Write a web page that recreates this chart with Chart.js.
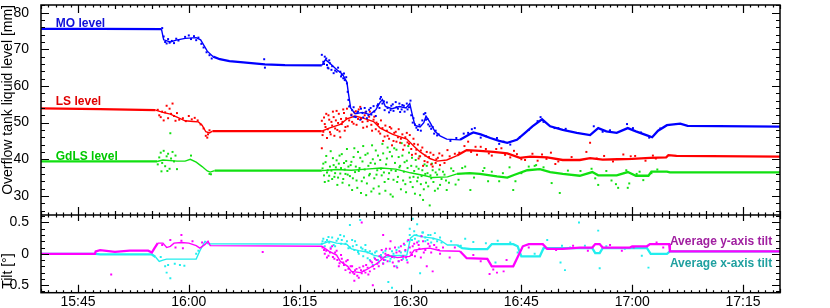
<!DOCTYPE html>
<html><head><meta charset="utf-8">
<script src="https://cdn.jsdelivr.net/npm/chart.js@4/dist/chart.umd.min.js"></script>
<style>html,body{margin:0;padding:0;background:#fff;}canvas{display:block;}</style>
</head><body>
<canvas id="c" width="830" height="308"></canvas>
<script>
// ---- time axis (minutes after 15:40) ----
const timeTickMinutes = [5, 20, 35, 50, 65, 80, 95];
const timeTickLabels = ['15:45', '16:00', '16:15', '16:30', '16:45', '17:00', '17:15'];
const levelTicks = [30, 40, 50, 60, 70, 80];
const tiltTicks = [-0.5, 0, 0.5];
const tiltTickLabels = ['-0.5', '0', '0.5'];
const seriesNames = ['MO level', 'LS level', 'GdLS level'];
const tiltNames = ['Average y-axis tilt', 'Average x-axis tilt'];

// ---- overflow tank liquid level [mm] : [minute, value] ----
const moTrend = [[0,75.6],[8,75.6],[16.3,75.5],[16.6,72.6],[17.5,72.0],[18.3,72.5],[19.5,73.0],[21.0,73.2],[21.6,72.6],[22.5,69.5],[23.3,68.0],[24.2,67.3],[25.5,66.8],[27,66.5],[30.3,65.9],[33,65.7],[38,65.6],[38.5,67.2],[39.2,66.0],[40.0,64.5],[40.8,63.2],[41.4,61.0],[41.6,58.0],[41.9,54.0],[42.5,52.4],[43.5,52.8],[44.5,52.2],[45.3,53.5],[45.9,55.6],[46.2,56.3],[46.6,54.4],[47.5,53.8],[48.5,54.4],[49.4,54.0],[49.9,55.2],[50.2,52.5],[50.6,49.2],[51.3,48.8],[51.8,50.0],[52.1,51.8],[52.6,50.2],[53.3,47.6],[54.0,46.4],[54.9,45.5],[56.7,45.3],[58.0,46.8],[58.5,47.3],[59.5,46.8],[60.8,45.8],[62,45.0],[63.1,44.5],[64.4,45.3],[65.5,47.2],[66.5,49.0],[67.8,50.9],[68.9,49.0],[70.6,48.0],[72.5,47.2],[74.3,46.6],[75.4,48.5],[76.5,47.6],[77.9,47.2],[79.4,48.5],[80.5,47.6],[82.0,46.5],[82.7,46.0],[83.5,47.8],[84.7,49.3],[86.5,49.7],[87.5,49.1],[100,48.9]];
const moScatter = [[16.4,75.8],[16.6,73.5],[16.8,72.0],[17.0,71.6],[17.2,72.8],[17.4,71.8],[17.7,72.3],[18.0,71.7],[18.3,72.9],[18.6,72.4],[19.5,73.4],[20,73.8],[20.3,72.8],[20.7,73.6],[21,72.5],[21.3,73.2],[21.7,71.5],[22,70.5],[22.4,69.2],[22.8,68.4],[23.1,67.5],[30.2,67.3],[30.3,65.0],[38.0,68.5],[38.4,68.0],[38.2,66.6],[38.7,65.7],[38.9,64.8],[39.1,66.2],[39.3,64.4],[39.6,63.5],[40.0,63.9],[40.5,63.9],[40.7,63.0],[40.9,62.1],[41.1,61.6],[41.4,60.7],[41.5,58.4],[41.6,56.2],[41.7,54.4],[42.0,52.0],[42.3,54.2],[42.6,51.5],[42.9,53.0],[43.2,50.8],[43.5,52.6],[43.8,54.0],[44.1,51.2],[44.4,53.5],[44.7,52.2],[45.0,54.5],[45.3,51.8],[45.6,55.0],[45.9,56.5],[46.2,55.2],[46.5,53.4],[46.8,55.5],[47.1,52.8],[47.4,54.6],[47.7,53.2],[48.0,55.6],[48.3,53.8],[48.6,52.9],[48.9,54.8],[49.2,53.0],[49.5,55.2],[49.8,54.2],[50.1,52.0],[50.3,50.0],[50.6,49.5],[51.0,48.0],[51.4,47.8],[51.8,52.3],[52.1,50.8],[52.4,49.5],[52.8,48.3],[53.2,47.0],[53.6,46.5],[57.2,47.0],[58.3,48.2],[58.7,48.5],[59.5,45.9],[61.7,45.8],[62.0,44.2],[63.5,44.0],[66,48],[67.6,51.5],[68.0,50.2],[69.5,48.5],[71.0,48.3],[74.8,49.0],[76.0,47.5],[79.3,49.6],[80.1,48.5],[82.3,45.9],
  [38.3,66.0],[38.6,67.5],[38.8,65.0],[39.0,67.0],[39.4,65.4],[39.8,64.2],[40.2,65.0],[40.6,62.6],[41.0,63.4],[41.3,62.4],[42.1,53.4],[42.4,51.6],[42.8,52.6],[43.3,53.8],[43.6,51.4],[44.0,53.0],[44.3,52.0],[44.6,54.0],[45.1,53.0],[45.5,54.6],[45.8,54.0],[46.0,57.0],[46.4,55.8],[46.9,54.0],[47.3,53.4],[47.6,55.0],[48.1,54.2],[48.5,55.2],[48.8,53.6],[49.1,54.6],[49.6,53.6],[50.0,56.0],[50.4,51.2],[50.8,48.6],[51.2,49.4],[51.6,50.6],[52.0,52.6],[52.3,51.0],[52.6,49.0],[53.0,48.8],[53.4,47.8],[53.8,46.8],[55.4,45.0],[56.2,45.8],[57.8,47.2],[60.2,46.3],[62.6,44.8],[64.8,46.0],[67.2,50.4],[70.0,48.5],[73.4,46.9],[77.0,47.9],[81.2,47.3],[83.8,48.4]];

const lsTrend = [[0,53.9],[8,53.7],[15.5,53.4],[16.5,52.8],[17.5,52.3],[18.4,51.5],[19.5,50.5],[20.6,50.3],[21.3,50.2],[21.8,49.3],[22.3,47.5],[22.8,47.2],[23.2,47.7],[38,47.7],[39,48.5],[40.5,49.5],[41.4,51.0],[42.5,51.8],[43.5,51.3],[45,50.3],[45.9,48.5],[47.6,46.8],[49.5,45.5],[50.5,43.5],[51.3,42.0],[52.6,40.2],[53.6,39.5],[54.9,39.8],[56.3,41.0],[57.6,42.5],[59.4,42.3],[61.2,42.0],[63.1,41.6],[64.8,40.4],[66.2,40.7],[68.5,40.5],[70.6,39.8],[72.9,39.8],[74.3,40.3],[76,39.9],[78,40.0],[80,40.1],[82.4,40.4],[84.6,40.5],[84.9,41.1],[86,40.9],[100,40.7]];
const lsScatter = [[15.8,53.5],[16.0,52.0],[16.2,51.5],[16.4,53.0],[16.6,50.6],[16.8,52.8],[17.0,54.6],[17.2,51.2],[17.4,53.8],[17.6,52.4],[17.8,55.2],[18.0,51.8],[18.2,50.5],[18.4,52.6],[18.7,50.8],[19.2,51.2],[19.6,50.4],[20.0,51.8],[20.4,50.9],[20.8,51.3],[21.2,50.6],[21.6,49.5],[22.0,48.4],[22.3,46.4],[22.6,46.8],[22.8,47.9],[22.5,45.9],[38.0,43.0],[38.0,50.5],[38.2,47.5],[38.4,49.6],[38.6,52.4],[38.8,48.2],[39.0,50.8],[39.2,46.8],[39.4,49.2],[39.6,51.5],[39.8,48.4],[40.0,53.2],[40.2,49.9],[40.4,47.6],[40.6,51.0],[40.8,50.2],[41.0,52.6],[41.2,48.8],[41.4,53.8],[41.7,50.6],[42.0,52.2],[42.3,49.7],[42.6,53.1],[42.9,51.0],[43.2,54.3],[43.5,50.2],[43.8,52.0],[44.1,48.9],[44.4,51.6],[44.7,49.4],[45.0,50.8],[45.3,48.2],[45.6,49.6],[45.9,47.0],[46.2,48.5],[46.5,46.2],[46.8,47.8],[47.1,45.6],[47.4,48.4],[47.7,45.0],[48.0,47.5],[48.3,46.0],[48.6,44.5],[48.9,46.8],[49.2,43.8],[49.5,47.2],[49.8,44.2],[50.1,42.8],[50.4,45.6],[50.7,41.5],[51.0,44.0],[51.3,40.8],[51.6,43.2],[51.9,39.5],[52.2,42.0],[52.5,40.6],[52.8,38.6],[53.1,41.2],[53.4,39.0],[53.7,40.4],[54.0,38.4],[54.3,41.0],[55.0,42.5],[56.0,41.5],[57.3,43.6],[57.8,44.8],[59.0,41.2],[59.5,43.4],[60.2,42.8],[61.0,41.0],[62.3,43.0],[63.5,40.5],[64.0,42.3],[65.5,39.8],[66.5,41.5],[67.2,39.6],[68.4,40.1],[69.0,41.8],[69.6,38.7],[73.8,42.0],[74.3,44.5],[76.2,40.9],[78.8,41.3],[80.4,40.9],[83.2,40.2],
  [38.1,46.6],[38.3,51.4],[38.5,48.8],[38.7,45.8],[38.9,52.0],[39.1,47.4],[39.3,50.2],[39.5,53.0],[39.7,46.4],[39.9,50.6],[40.1,48.0],[40.3,52.4],[40.5,46.0],[40.7,49.6],[40.9,53.6],[41.1,47.8],[41.3,51.2],[41.5,49.0],[41.8,54.6],[42.1,50.2],[42.4,52.8],[42.7,49.4],[43.0,53.6],[43.3,51.0],[43.6,48.6],[43.9,52.8],[44.2,50.4],[44.5,53.0],[44.8,47.8],[45.1,51.6],[45.4,50.0],[45.7,47.6],[46.0,50.6],[46.3,45.0],[46.6,49.2],[46.9,46.4],[47.2,48.8],[47.5,43.8],[47.8,47.2],[48.1,44.8],[48.4,48.2],[48.7,45.6],[49.0,42.6],[49.3,46.0],[49.6,44.6],[49.9,46.6],[50.2,41.2],[50.5,44.2],[50.8,42.6],[51.1,40.2],[51.4,42.4],[51.7,38.2],[52.0,41.0],[52.3,39.2],[52.7,41.8],[53.0,38.0],[53.5,40.0],[53.9,41.6],[54.6,39.0],[55.3,40.8],[56.6,41.8],[58.2,42.0],[58.8,43.4],[60.6,41.6],[61.6,42.8],[62.8,41.2],[64.4,41.4],[65.0,40.0],[67.8,41.3],[70.0,39.4],[71.8,40.6],[75.2,40.2],[77.4,39.4],[79.8,40.8],[81.8,39.6],[82.8,41.0]];

const gdlsTrend = [[0,39.4],[15.7,39.4],[16.5,39.8],[18.4,39.5],[19.5,39.5],[20.2,40.0],[21.0,39.2],[21.8,38.0],[22.5,36.8],[22.9,36.5],[23.5,36.9],[38,36.9],[40,37.2],[42,37.0],[44,37.3],[46,37.6],[48,37.3],[50,36.3],[52,35.5],[53,35.0],[55,35.2],[56.3,36.0],[58,36.2],[59.4,36.0],[61.7,35.3],[63.1,35.0],[64,35.7],[65.8,37.0],[67.5,37.3],[68.9,36.5],[70.6,36.0],[72.9,35.5],[74.6,36.5],[75.4,35.6],[77.9,35.6],[79.4,36.5],[80.5,35.5],[82.2,35.5],[82.6,36.6],[84.7,36.6],[85.1,36.4],[100,36.4]];
const gdlsScatter = [[15.8,38.6],[16.0,40.5],[16.2,41.8],[16.4,39.0],[16.6,42.3],[16.8,38.1],[17.0,40.8],[17.2,41.5],[17.4,37.4],[17.6,40.2],[17.8,42.0],[18.0,39.4],[18.2,41.0],[18.4,37.3],[17.1,36.8],[16.3,36.7],[17.5,47.1],[20.3,41.0],[22.8,36.0],[23.0,35.9],[38.1,37.5],[38.3,35.6],[38.5,39.2],[38.7,36.4],[38.9,34.1],[39.1,38.0],[39.3,36.9],[39.5,40.3],[39.7,35.2],[39.9,37.8],[40.1,33.0],[40.3,38.8],[40.5,36.1],[40.7,41.4],[40.9,34.6],[41.1,37.2],[41.3,39.5],[41.5,35.8],[41.7,32.9],[41.9,38.4],[42.1,31.6],[42.3,40.6],[42.5,36.5],[42.7,34.2],[42.9,42.0],[43.1,37.6],[43.3,30.8],[43.5,39.4],[43.7,35.0],[43.9,41.2],[44.1,33.4],[44.3,38.2],[44.5,36.0],[44.7,31.2],[44.9,40.0],[45.1,34.8],[45.3,42.4],[45.5,37.0],[45.7,32.6],[45.9,39.8],[46.1,35.6],[46.3,41.6],[46.5,33.8],[46.7,38.6],[46.9,43.2],[47.1,36.2],[47.3,30.4],[47.5,40.8],[47.7,34.4],[47.9,39.0],[48.1,42.6],[48.3,35.2],[48.5,37.8],[48.7,31.8],[48.9,41.0],[49.1,36.6],[49.3,33.2],[49.5,39.6],[49.7,43.6],[49.9,35.0],[50.1,38.2],[50.3,32.4],[50.5,36.8],[50.7,39.8],[50.9,34.0],[51.1,37.4],[51.3,30.2],[51.5,35.4],[51.7,28.9],[51.9,38.6],[52.1,33.6],[52.3,36.2],[52.6,27.4],[52.8,34.8],[53.0,37.0],[53.3,31.4],[53.6,35.8],[54.0,33.0],[54.4,36.6],[54.8,34.2],[54.9,31.6],[55.5,37.5],[56.1,33.1],[57.0,37.6],[58.1,31.6],[59.8,36.8],[60.5,34.0],[62.5,36.2],[63.9,31.6],[64.2,34.0],[65.0,36.2],[66.8,38.2],[68.0,37.8],[69.1,33.5],[70.2,30.8],[71.3,36.9],[74.5,37.4],[75.0,34.8],[75.4,33.0],[77.8,33.2],[78.1,32.2],[79.2,37.0],[79.4,32.2],[79.6,33.4],[81.5,34.3],[82.6,36.2],[80.6,36.0],
  [38.2,38.8],[38.4,33.8],[38.6,40.9],[38.8,37.0],[39.0,35.5],[39.2,42.2],[39.4,34.6],[39.6,38.4],[39.8,36.2],[40.0,39.7],[40.2,35.0],[40.4,41.0],[40.6,37.6],[40.8,33.6],[41.0,39.0],[41.2,36.0],[41.4,42.8],[41.6,38.0],[41.8,35.4],[42.0,39.3],[42.2,34.8],[42.4,43.0],[42.6,38.0],[42.8,32.2],[43.0,36.8],[43.2,40.4],[43.4,34.0],[43.6,43.6],[43.8,37.2],[44.0,30.2],[44.2,41.6],[44.4,35.6],[44.6,39.0],[44.8,43.8],[45.0,32.0],[45.2,38.8],[45.4,35.8],[45.6,41.0],[45.8,30.6],[46.0,37.4],[46.2,44.2],[46.4,36.4],[46.6,31.4],[46.8,40.2],[47.0,34.6],[47.2,42.0],[47.4,37.0],[47.6,29.8],[47.8,43.0],[48.0,36.8],[48.2,33.8],[48.4,40.6],[48.6,38.2],[48.8,44.4],[49.0,34.2],[49.2,39.2],[49.4,31.0],[49.6,37.6],[49.8,41.8],[50.0,33.8],[50.2,40.4],[50.4,35.2],[50.6,30.6],[50.8,38.0],[51.0,35.0],[51.2,40.8],[51.4,33.2],[51.6,37.0],[51.8,31.8],[52.0,36.0],[52.2,38.2],[52.4,32.6],[52.7,35.6],[52.9,38.8],[53.1,33.8],[53.4,36.4],[53.7,32.0],[53.9,37.2],[54.2,34.6],[54.6,35.8],[55.2,33.6],[55.8,36.8],[56.5,34.4],[57.4,38.0],[58.6,35.0],[60.0,37.6],[61.0,36.6],[62.0,34.0],[63.4,37.8],[66.0,38.0],[67.0,38.4],[73.0,36.8],[76.5,36.8],[77.2,34.2],[81.0,36.6],[83.4,37.2]];

// ---- tilt [deg] : [minute, value] ----
const yTiltTrend = [[0,0],[7.3,0],[7.4,0.04],[8,0.06],[10,0.03],[12,0.05],[14.5,0.05],[15,0.02],[15.3,0.08],[15.8,0.17],[16.5,0.17],[17,0.1],[17.5,0.12],[18,0.17],[19,0.18],[20,0.17],[21,0.13],[21.5,0.09],[22.2,0.15],[22.6,0.2],[22.9,0.13],[38,0.12],[39,0.04],[40,-0.02],[40.5,-0.12],[41.5,-0.2],[42,-0.28],[43.2,-0.3],[44.1,-0.25],[45.5,-0.15],[46.8,-0.02],[48.2,-0.06],[49.9,-0.04],[50.5,0.06],[51.7,0.08],[52.6,0.09],[54,0.05],[56.7,0.04],[57.6,-0.07],[60.4,-0.08],[61,-0.2],[63.9,-0.2],[65.2,0.12],[66,0.155],[67.9,0.155],[68.5,0.08],[70.6,0.08],[72.9,0.1],[74.6,0.1],[75,0.155],[75.6,0.155],[76,0.1],[79.7,0.1],[80,0.12],[82.0,0.12],[82.4,0.155],[85,0.155],[85.1,0.04],[100,0.04]];
const yTiltScatter = [[9.5,-0.33],[16.4,0.14],[17.5,0.22],[18.2,0.1],[19.0,0.21],[19.2,0.09],[19.0,0.30],[20.5,0.2],[21.8,0.18],[30.0,0.03],[38.1,0.1],[38.4,0.0],[38.6,0.05],[38.9,-0.03],[39.2,0.08],[39.5,-0.05],[39.8,0.02],[40.1,-0.1],[40.4,-0.15],[40.7,-0.08],[41.0,-0.18],[41.3,-0.12],[41.6,-0.24],[41.9,-0.2],[42.2,-0.3],[42.5,-0.26],[42.8,-0.35],[43.1,-0.22],[43.4,-0.31],[43.7,-0.27],[44.0,-0.18],[44.3,-0.33],[44.6,-0.12],[44.9,-0.2],[45.2,-0.08],[45.5,-0.16],[45.8,-0.04],[46.1,0.06],[46.4,-0.1],[46.7,0.08],[47.0,-0.02],[47.3,0.2],[47.6,-0.14],[47.9,0.1],[48.2,-0.22],[48.5,0.04],[48.8,-0.1],[49.1,0.16],[49.4,-0.06],[49.7,0.22],[50.0,0.02],[50.3,0.12],[50.6,-0.04],[50.9,0.18],[51.2,0.08],[51.5,0.28],[51.8,0.02],[52.2,-0.2],[52.6,0.12],[53.0,-0.28],[53.5,0.1],[54.0,0.0],[42.4,-0.43],[43.4,0.5],[44.9,-0.5],[46.3,0.3],[55.3,-0.06],[56.0,0.1],[58.5,-0.02],[59.5,-0.12],[60.7,-0.32],[61.2,-0.25],[61.7,-0.3],[62.6,-0.28],[63.0,-0.1],[66.0,0.1],[69.7,0.06],[72.0,0.13],[74.0,0.05],[77.0,0.14],[78.6,0.05],[80.2,0.1],[83.3,0.18],[84.2,0.1],
  [38.3,0.06],[38.7,-0.06],[39.1,0.02],[39.4,0.12],[39.7,-0.08],[40.0,0.05],[40.3,-0.2],[40.6,-0.02],[40.9,-0.14],[41.2,-0.26],[41.5,-0.1],[41.8,-0.3],[42.1,-0.2],[42.4,-0.32],[42.7,-0.24],[43.0,-0.38],[43.3,-0.26],[43.6,-0.2],[43.9,-0.3],[44.2,-0.22],[44.5,-0.28],[44.8,-0.14],[45.1,-0.24],[45.4,-0.1],[45.7,-0.2],[46.0,-0.06],[46.3,-0.16],[46.6,0.0],[46.9,-0.12],[47.2,0.08],[47.5,-0.05],[47.8,-0.2],[48.1,0.02],[48.4,-0.12],[48.7,0.12],[49.0,-0.04],[49.3,0.06],[49.6,-0.14],[49.9,0.1],[50.2,-0.02],[50.5,0.16],[50.8,0.04],[51.1,0.14],[51.4,-0.06],[51.7,0.2],[52.0,0.06],[52.4,0.16],[52.8,0.02],[53.2,0.14],[53.8,0.06],[54.4,0.1]];
const xTiltTrend = [[0,0],[7.4,0],[8,-0.01],[15,-0.01],[15.5,-0.05],[16,-0.12],[16.5,-0.1],[17,-0.085],[20,-0.085],[21,-0.085],[21.5,0.05],[22.2,0.2],[22.6,0.16],[38,0.155],[39,0.2],[40,0.17],[41.4,0.15],[42,0.08],[43,0.05],[44.1,0.03],[45,-0.02],[46.5,-0.06],[47.5,-0.03],[49.5,-0.02],[50,0.25],[50.5,0.3],[51.7,0.27],[53,0.25],[54,0.22],[55,0.14],[56.3,0.14],[57,0.09],[58.2,0.075],[60.4,0.075],[61,0.155],[63.9,0.155],[64.5,0.12],[65,-0.04],[67.5,-0.04],[68,0.09],[74.6,0.09],[75,0.01],[75.6,0.01],[76,0.09],[82,0.09],[82.5,0.0],[84.7,0.0],[85.1,0.04],[100,0.04]];
const xTiltScatter = [[16.2,-0.05],[16.8,-0.2],[17.0,-0.3],[17.2,-0.18],[17.5,-0.39],[18.1,-0.16],[18.8,-0.18],[19.4,-0.19],[21.0,0.0],[21.3,0.05],[38.0,0.16],[38.2,0.24],[38.5,0.19],[38.9,0.27],[39.2,0.1],[39.6,0.14],[40.0,0.21],[40.5,0.3],[40.7,0.22],[41.2,0.16],[41.6,0.09],[41.8,0.46],[42.2,0.12],[42.5,0.2],[42.9,0.03],[43.2,0.54],[43.5,0.08],[43.9,0.14],[44.2,-0.07],[44.5,0.04],[44.9,-0.18],[45.2,0.02],[45.6,-0.1],[46.0,-0.02],[46.3,-0.15],[46.6,0.05],[47.0,-0.45],[47.3,-0.08],[47.7,0.0],[48.1,-0.2],[48.4,0.1],[48.8,-0.04],[49.2,0.14],[49.5,-0.1],[49.9,0.4],[50.3,0.56],[50.6,0.24],[50.9,0.47],[51.3,-0.31],[51.6,0.34],[52.0,0.2],[52.4,0.3],[52.8,0.18],[53.3,0.33],[54.0,0.26],[55.5,0.2],[56.8,0.13],[57.4,0.24],[58.5,0.19],[60.2,0.17],[61.5,-0.14],[61.8,0.21],[63.5,0.18],[64.5,0.02],[66.8,0.0],[68.5,0.22],[70.3,-0.14],[70.5,0.13],[70.9,-0.26],[71.6,0.1],[72.8,0.5],[73.6,0.13],[75.4,0.37],[75.6,-0.23],[76.5,0.12],[79.0,0.08],[81.3,-0.03],[82.2,-0.22],[47.5,-0.54],
  [38.1,0.2],[38.4,0.12],[38.7,0.22],[39.0,0.18],[39.4,0.26],[39.8,0.12],[40.2,0.24],[40.6,0.16],[41.0,0.28],[41.4,0.2],[41.8,0.1],[42.1,0.22],[42.4,0.06],[42.7,0.14],[43.0,0.0],[43.3,0.1],[43.6,-0.04],[43.9,0.06],[44.2,0.02],[44.5,-0.1],[44.8,0.0],[45.1,-0.06],[45.4,0.04],[45.7,-0.14],[46.0,-0.06],[46.3,0.02],[46.6,-0.1],[46.9,-0.02],[47.2,-0.12],[47.5,0.04],[47.8,-0.06],[48.1,0.06],[48.4,-0.12],[48.7,0.02],[49.0,-0.08],[49.3,0.04],[49.6,0.2],[49.9,0.3],[50.2,0.22],[50.5,0.36],[50.8,0.3],[51.1,0.2],[51.4,0.28],[51.7,0.34],[52.0,0.26],[52.3,0.22],[52.7,0.3],[53.1,0.24],[53.6,0.2],[54.2,0.18]];

const BLUE = '#0000ff', RED = '#ff0000', GREEN = '#11e011', MAGENTA = '#ff00ff', CYAN = '#22eeee';
const pts = a => a.map(([x, y]) => ({x, y}));
const noisy = m => (m >= 15.5 && m < 23) || (m >= 38 && m < 56);
function trend(data, color, axis, order) {
  return {type: 'line', data: pts(data), borderColor: color, backgroundColor: color, borderWidth: 2.3,
    segment: {borderWidth: c => noisy(c.p0.parsed.x) ? 1.4 : 2.3},
    pointRadius: 0, tension: 0, yAxisID: axis, order};
}
function cloud(data, color, axis, order) {
  return {type: 'scatter', data: pts(data), backgroundColor: color, borderColor: color, borderWidth: 0, pointRadius: 1.4, pointStyle: 'rect', yAxisID: axis, order};
}

const FONT = "'Liberation Sans', Arial, Helvetica, sans-serif";
Chart.defaults.font.family = FONT;
Chart.defaults.color = '#000';

const framePlugin = {
  id: 'frame',
  afterDraw(chart) {
    const {ctx, chartArea: a, scales} = chart;
    const sx = scales.x, yt = scales.y, yb = scales.y2;
    const mid = yt.bottom;
    ctx.save();
    ctx.strokeStyle = '#000';
    ctx.lineWidth = 1.5;
    ctx.strokeRect(a.left, a.top, a.right - a.left, a.bottom - a.top);
    ctx.beginPath(); ctx.moveTo(a.left, mid); ctx.lineTo(a.right, mid); ctx.stroke();
    ctx.lineWidth = 1.2;
    ctx.beginPath();
    for (let m = 0; m <= 100; m++) {
      const px = Math.round(sx.getPixelForValue(m)) + 0.5;
      const big = timeTickMinutes.includes(m);
      const len = big ? 8 : (m % 5 === 0 ? 4 : 2.5);
      ctx.moveTo(px, a.top); ctx.lineTo(px, a.top + len);
      ctx.moveTo(px, mid - len); ctx.lineTo(px, mid + (big ? 6 : len));
      ctx.moveTo(px, a.bottom); ctx.lineTo(px, a.bottom - len);
    }
    for (let v = 26; v <= 82; v += 2) {
      const py = Math.round(yt.getPixelForValue(v)) + 0.5;
      const len = v % 10 === 0 ? 8 : 4;
      ctx.moveTo(a.left, py); ctx.lineTo(a.left + len, py);
      ctx.moveTo(a.right, py); ctx.lineTo(a.right - len, py);
    }
    for (let i = -6; i <= 6; i++) {
      const py = Math.round(yb.getPixelForValue(i / 10)) + 0.5;
      const len = i % 5 === 0 ? 8 : 4;
      ctx.moveTo(a.left, py); ctx.lineTo(a.left + len, py);
      ctx.moveTo(a.right, py); ctx.lineTo(a.right - len, py);
    }
    ctx.stroke();
    // series labels
    ctx.font = 'bold 12px ' + FONT;
    ctx.textAlign = 'left';
    ctx.textBaseline = 'middle';
    const lx = sx.getPixelForValue(2.0);
    ctx.fillStyle = '#1010d8'; ctx.fillText(seriesNames[0], lx, yt.getPixelForValue(77.1));
    ctx.fillStyle = '#e00000'; ctx.fillText(seriesNames[1], lx, yt.getPixelForValue(55.6));
    ctx.fillStyle = '#00c800'; ctx.fillText(seriesNames[2], lx, yt.getPixelForValue(40.7));
    const tx = sx.getPixelForValue(85.1);
    ctx.fillStyle = '#a020a0'; ctx.fillText(tiltNames[0], tx, yb.getPixelForValue(0.2));
    ctx.fillStyle = '#20a0a0'; ctx.fillText(tiltNames[1], tx, yb.getPixelForValue(-0.155));
    ctx.restore();
  }
};

const noPad = s => { s.paddingTop = 0; s.paddingBottom = 0; s.paddingLeft = 0; s.paddingRight = 0; };

new Chart(document.getElementById('c'), {
  data: {
    datasets: [
      trend(moTrend, BLUE, 'y', 1), cloud(moScatter, BLUE, 'y', 1),
      trend(lsTrend, RED, 'y', 2), cloud(lsScatter, RED, 'y', 2),
      trend(gdlsTrend, GREEN, 'y', 3), cloud(gdlsScatter, GREEN, 'y', 3),
      trend(yTiltTrend, MAGENTA, 'y2', 4), cloud(yTiltScatter, MAGENTA, 'y2', 4),
      trend(xTiltTrend, CYAN, 'y2', 5), cloud(xTiltScatter, CYAN, 'y2', 5)
    ]
  },
  options: {
    responsive: false,
    animation: false,
    devicePixelRatio: 1,
    layout: {padding: {left: 0, top: 5, right: 50, bottom: 0}},
    plugins: {legend: {display: false}, tooltip: {enabled: false}},
    scales: {
      x: {
        type: 'linear', position: 'bottom', min: 0, max: 100,
        grid: {display: false}, border: {display: false},
        afterBuildTicks: s => { s.ticks = timeTickMinutes.map(v => ({value: v})); },
        afterFit: s => { s.height = 15.3; noPad(s); },
        ticks: {padding: -7, maxRotation: 0, autoSkip: false, font: {size: 14},
          callback: v => timeTickLabels[timeTickMinutes.indexOf(v)]}
      },
      y: {
        type: 'linear', position: 'left', stack: 'panels', stackWeight: 2.7, weight: 2,
        min: 24.8, max: 82.1,
        grid: {display: false}, border: {display: false},
        afterBuildTicks: s => { s.ticks = levelTicks.map(v => ({value: v})); },
        afterFit: s => { s.width = 41; noPad(s); },
        ticks: {padding: 4, font: {size: 14}, callback: v => String(v)},
        title: {display: true, text: 'Overflow tank liquid level [mm]', align: 'end', font: {size: 14}, padding: {top: 0, bottom: 0}}
      },
      y2: {
        type: 'linear', position: 'left', stack: 'panels', stackWeight: 1, weight: 1,
        min: -0.62, max: 0.62,
        grid: {display: false}, border: {display: false},
        afterBuildTicks: s => { s.ticks = tiltTicks.map(v => ({value: v})); },
        afterFit: s => { s.width = 41; noPad(s); },
        ticks: {padding: 4, font: {size: 14}, callback: v => tiltTickLabels[tiltTicks.indexOf(v)]},
        title: {display: true, text: ' Tilt [°]', align: 'start', font: {size: 14}, padding: {top: 0, bottom: 0}}
      }
    }
  },
  plugins: [framePlugin]
});
</script>
</body></html>
